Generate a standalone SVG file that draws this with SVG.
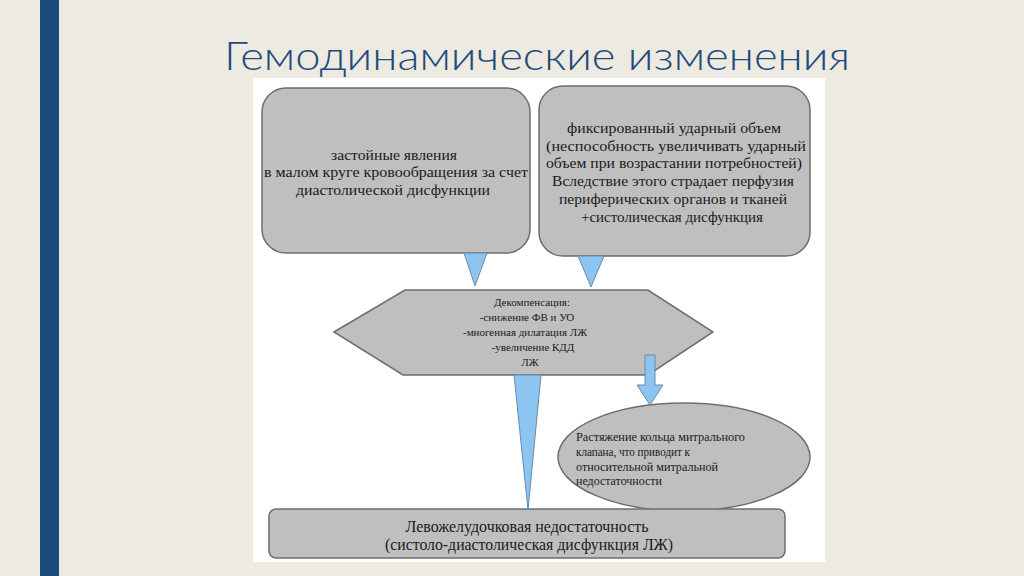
<svg xmlns="http://www.w3.org/2000/svg" width="1024" height="576" viewBox="0 0 1024 576">
<style>
.box{fill:#bfbfbf;stroke:#6e6e6e;stroke-width:1.5}
.arr{fill:#8cc4f2;stroke:#6c8aa6;stroke-width:1}
.t{font-family:"Liberation Serif","DejaVu Serif",serif;fill:#1a1a1a;text-anchor:middle}
.m{font-size:15px}
.s{font-size:11px}
.e{font-size:11.5px;text-anchor:start}
.b{font-size:16px}
</style>
<rect x="0" y="0" width="1024" height="576" fill="#edeae1"/>
<rect x="40" y="0" width="19" height="576" fill="#1f4a7c"/>
<text x="224" y="70" font-family="Lato,'Open Sans',sans-serif" font-weight="300" font-size="40" fill="#1f4a7c" textLength="626" lengthAdjust="spacingAndGlyphs">Гемодинамические изменения</text>
<rect x="253" y="78" width="572" height="484" fill="#ffffff"/>
<g id="n1">
<rect class="box" x="262" y="88" width="268" height="165" rx="24"/>
<text class="t m" x="394" y="160" textLength="126" lengthAdjust="spacingAndGlyphs">застойные явления</text>
<text class="t m" x="396" y="177" textLength="264" lengthAdjust="spacingAndGlyphs">в малом круге кровообращения за счет</text>
<text class="t m" x="393" y="195" textLength="194" lengthAdjust="spacingAndGlyphs">диастолической дисфункции</text>
</g>
<g id="n2">
<rect class="box" x="539" y="86" width="271" height="170" rx="24"/>
<text class="t m" x="674" y="133" textLength="214" lengthAdjust="spacingAndGlyphs">фиксированный ударный объем</text>
<text class="t m" x="676" y="151" textLength="260" lengthAdjust="spacingAndGlyphs">(неспособность увеличивать ударный</text>
<text class="t m" x="674" y="168" textLength="256" lengthAdjust="spacingAndGlyphs">объем при возрастании потребностей)</text>
<text class="t m" x="673" y="186" textLength="242" lengthAdjust="spacingAndGlyphs">Вследствие этого страдает перфузия</text>
<text class="t m" x="673" y="204" textLength="228" lengthAdjust="spacingAndGlyphs">периферических органов и тканей</text>
<text class="t m" x="672" y="222" textLength="182" lengthAdjust="spacingAndGlyphs">+систолическая дисфункция</text>
</g>
<g id="n3">
<polygon class="box" points="334,332 405,290 648,290 713,332 648,375 403,375"/>
<text class="t s" x="532" y="306">Декомпенсация:</text>
<text class="t s" x="527" y="321">-снижение ФВ и УО</text>
<text class="t s" x="525" y="336">-многенная дилатация ЛЖ</text>
<text class="t s" x="533" y="351">-увеличение КДД</text>
<text class="t s" x="530" y="366">ЛЖ</text>
</g>
<g id="n4">
<ellipse class="box" cx="684" cy="457" rx="126" ry="54"/>
<text class="t e" x="576" y="441" textLength="169" lengthAdjust="spacingAndGlyphs">Растяжение кольца митрального</text>
<text class="t e" x="576" y="456" textLength="114" lengthAdjust="spacingAndGlyphs">клапана, что приводит к</text>
<text class="t e" x="576" y="471" textLength="142" lengthAdjust="spacingAndGlyphs">относительной митральной</text>
<text class="t e" x="576" y="485" textLength="86" lengthAdjust="spacingAndGlyphs">недостаточности</text>
</g>
<g id="n5">
<rect class="box" x="269" y="509" width="516" height="49" rx="7"/>
<text class="t b" x="527" y="532" textLength="243" lengthAdjust="spacingAndGlyphs">Левожелудочковая недостаточность</text>
<text class="t b" x="529" y="550" textLength="288" lengthAdjust="spacingAndGlyphs">(систоло-диастолическая дисфункция ЛЖ)</text>
</g>
<g id="connectors">
<polygon class="arr" points="464,253 487,253 475,286"/>
<polygon class="arr" points="578,256 604,256 591,287"/>
<polygon class="arr" points="514,375 541,375 528,510"/>
<polygon class="arr" points="645,355 655,355 655,385 663,385 650,405 637,385 645,385"/>
</g>
</svg>
